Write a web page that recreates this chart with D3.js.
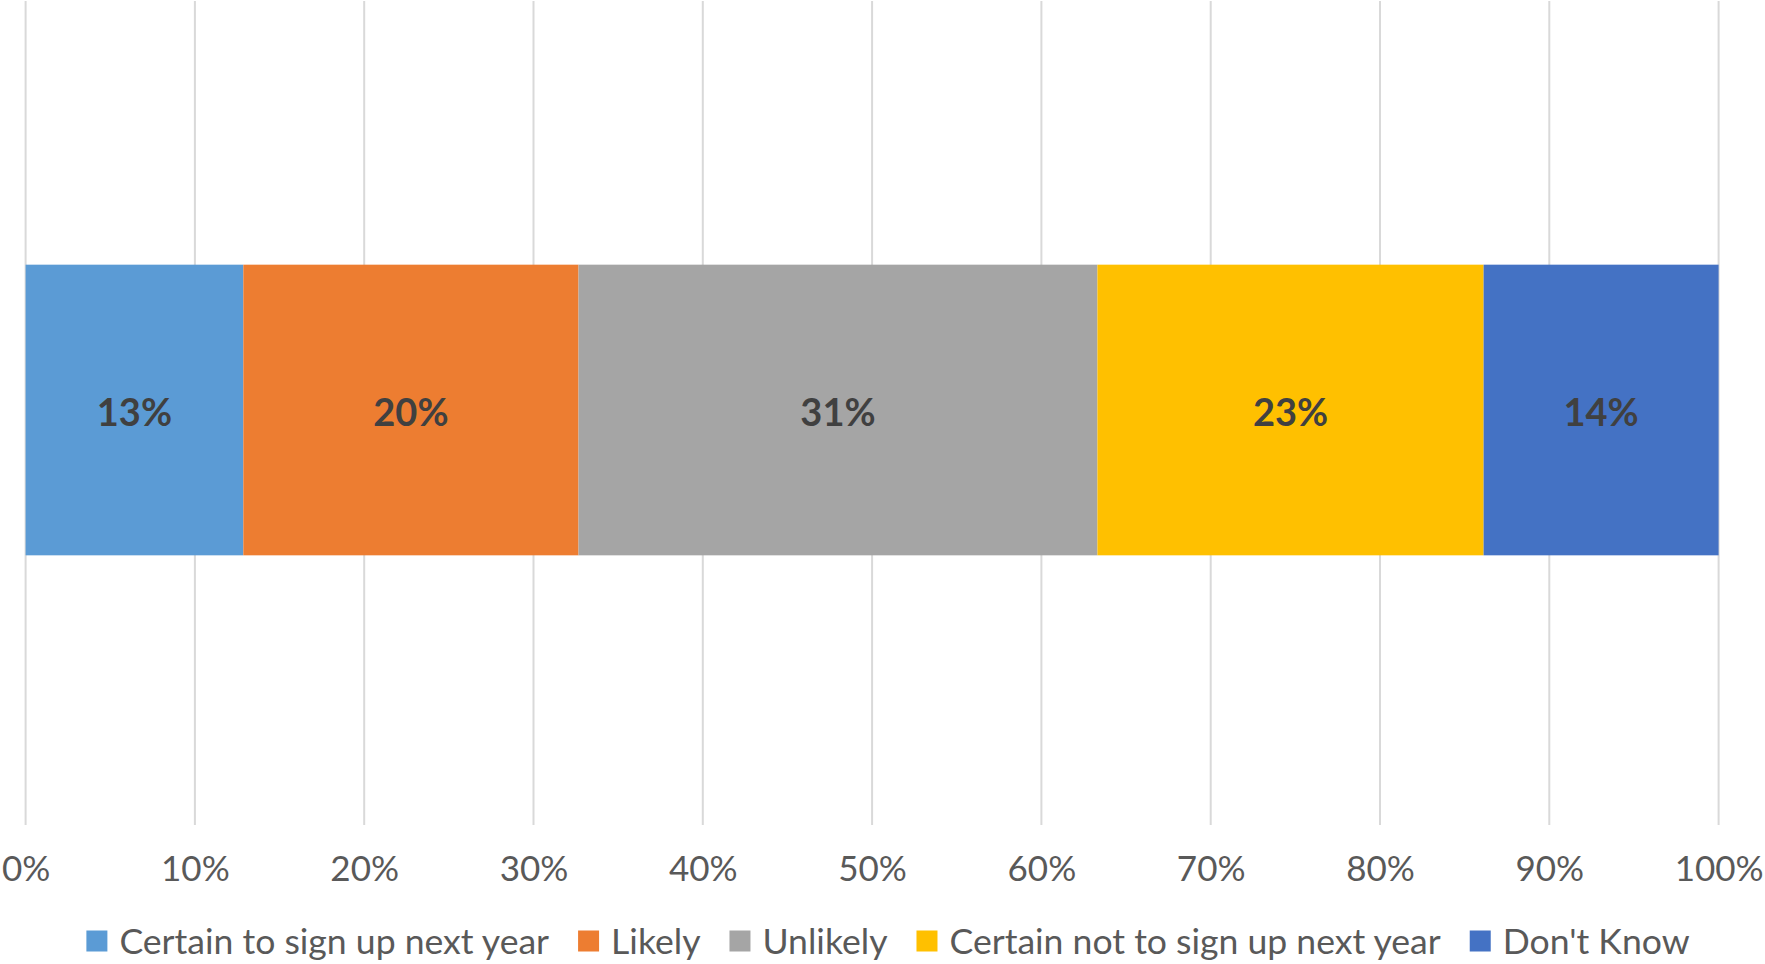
<!DOCTYPE html>
<html>
<head>
<meta charset="utf-8">
<script src="https://cdn.jsdelivr.net/npm/d3@7"></script>
<style>
  html, body { margin: 0; padding: 0; background: #ffffff; }
  svg { display: block; }
  text { font-family: Lato, "Open Sans", sans-serif; }
</style>
</head>
<body>
<svg id="chart" width="1765" height="964"></svg>
<script>
// Survey responses: likelihood of signing up next year (shares of respondents)
const categories = ["Response"];
const seriesNames = [
  "Certain to sign up next year",
  "Likely",
  "Unlikely",
  "Certain not to sign up next year",
  "Don't Know"
];
const seriesValues = [0.1286, 0.1980, 0.3065, 0.2281, 0.1388];
const seriesColors = ["#5B9BD5", "#ED7D31", "#A5A5A5", "#FFC000", "#4472C4"];
const tickValues = [0, 0.1, 0.2, 0.3, 0.4, 0.5, 0.6, 0.7, 0.8, 0.9, 1.0];

const W = 1765, H = 964;
const plot = { left: 25.6, right: 1718.6, top: 0, bottom: 820 };

const svg = d3.select("#chart");

const x = d3.scaleLinear().domain([0, 1]).range([plot.left, plot.right]);
const y = d3.scaleBand().domain(categories).range([plot.top, plot.bottom]).padding(0.4766);

// Vertical gridlines
svg.append("g")
  .selectAll("line")
  .data(tickValues)
  .join("line")
  .attr("x1", d => x(d)).attr("x2", d => x(d))
  .attr("y1", 1).attr("y2", 825)
  .attr("stroke", "#d9d9d9")
  .attr("stroke-width", 2);

// Stacked segments
let acc = 0;
const stacked = seriesValues.map((v, i) => {
  const s = { name: seriesNames[i], value: v, x0: acc, x1: acc + v, color: seriesColors[i] };
  acc += v;
  return s;
});

const bars = svg.append("g");
categories.forEach(cat => {
  bars.selectAll("rect.seg")
    .data(stacked)
    .join("rect")
    .attr("class", "seg")
    .attr("x", d => x(d.x0))
    .attr("width", d => x(d.x1) - x(d.x0))
    .attr("y", y(cat))
    .attr("height", y.bandwidth())
    .attr("fill", d => d.color);

  bars.selectAll("text.lbl")
    .data(stacked)
    .join("text")
    .attr("class", "lbl")
    .attr("x", d => (x(d.x0) + x(d.x1)) / 2)
    .attr("y", y(cat) + y.bandwidth() / 2 + 2)
    .attr("dy", "0.36em")
    .attr("text-anchor", "middle")
    .attr("font-size", 38)
    .attr("font-weight", 700)
    .attr("fill", "#404040")
    .text(d => d3.format(".0%")(d.value));
});

// Percentage axis
const axis = d3.axisBottom(x)
  .tickValues(tickValues)
  .tickFormat(d3.format(".0%"))
  .tickSize(0)
  .tickPadding(0);

const axisG = svg.append("g")
  .attr("transform", `translate(0, 868)`)
  .call(axis);
axisG.select(".domain").remove();
axisG.selectAll("text")
  .attr("y", 0)
  .attr("dy", "0.36em")
  .attr("font-size", 35)
  .attr("font-family", "Lato, 'Open Sans', sans-serif")
  .attr("fill", "#595959");

// Legend
const legend = svg.append("g");
const sq = 21, sqGap = 12, itemGap = 29, legendY = 941;
const items = legend.selectAll("g.item")
  .data(stacked)
  .join("g")
  .attr("class", "item");
items.append("rect")
  .attr("width", sq).attr("height", sq)
  .attr("y", legendY - sq / 2)
  .attr("fill", d => d.color);
items.append("text")
  .attr("x", sq + sqGap)
  .attr("y", legendY)
  .attr("dy", "0.36em")
  .attr("font-size", 35.6)
  .attr("fill", "#595959")
  .text(d => d.name);

let widths = [];
items.each(function () {
  widths.push(sq + sqGap + d3.select(this).select("text").node().getComputedTextLength());
});
const total = d3.sum(widths) + itemGap * (widths.length - 1);
let cx = 888 - total / 2;
items.attr("transform", (d, i) => {
  const t = `translate(${cx},0)`;
  cx += widths[i] + itemGap;
  return t;
});
</script>
</body>
</html>
